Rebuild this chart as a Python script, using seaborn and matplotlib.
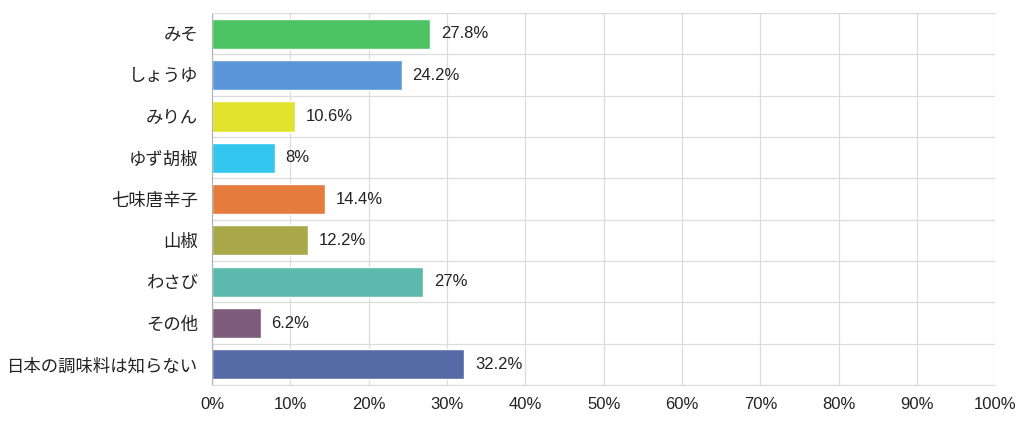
import numpy as np
import pandas as pd
import matplotlib
matplotlib.use("Agg")
import matplotlib.pyplot as plt
import seaborn as sns
from matplotlib.ticker import MultipleLocator, FixedLocator, FuncFormatter

categories = ["みそ", "しょうゆ", "みりん", "ゆず胡椒", "七味唐辛子", "山椒", "わさび", "その他", "日本の調味料は知らない"]
values = [27.8, 24.2, 10.6, 8.0, 14.4, 12.2, 27.0, 6.2, 32.2]
colors = ["#4dc463", "#5b96d8", "#e1e32f", "#33c6ef", "#e67b3e",
          "#a9a94a", "#5bbaad", "#7e5c7c", "#566aa5"]

df = pd.DataFrame({"item": categories, "pct": values})

sns.set_style("white")
plt.rcParams["font.family"] = ["Liberation Sans", "Noto Sans CJK JP", "DejaVu Sans"]

fig, ax = plt.subplots(figsize=(10.24, 4.24), dpi=100)
fig.subplots_adjust(left=0.207, right=0.972, top=0.969, bottom=0.092)

sns.barplot(data=df, y="item", x="pct", hue="item", palette=colors,
            legend=False, width=0.73, saturation=1, ax=ax)

ax.set_xlim(0, 100)
ax.set_ylim(len(categories) - 0.5, -0.5)
ax.xaxis.set_major_locator(MultipleLocator(10))
ax.xaxis.set_major_formatter(FuncFormatter(lambda v, p: f"{v:.0f}%"))
ax.yaxis.set_minor_locator(FixedLocator(np.arange(-0.5, len(categories), 1)))

ax.grid(True, axis="x", which="major", color="#dcdcdc", linewidth=0.9)
ax.grid(True, axis="y", which="minor", color="#dcdcdc", linewidth=0.9)
ax.set_axisbelow(True)

for s in ["top", "right", "bottom"]:
    ax.spines[s].set_color("#dcdcdc")
ax.spines["left"].set_color("#b0b0b0")
ax.spines["right"].set_visible(False)

ax.set_xlabel("")
ax.set_ylabel("")
ax.tick_params(axis="both", which="both", length=0, labelsize=12, colors="#222222")
ax.tick_params(axis="x", pad=9)
ax.tick_params(axis="y", pad=10)
for lbl in ax.get_yticklabels():
    lbl.set_fontsize(12.5)

for i, v in enumerate(values):
    ax.text(v + 1.4, i, f"{v:g}%", va="center", ha="left", fontsize=12, color="#222222")

fig.savefig("out.png", dpi=100)
